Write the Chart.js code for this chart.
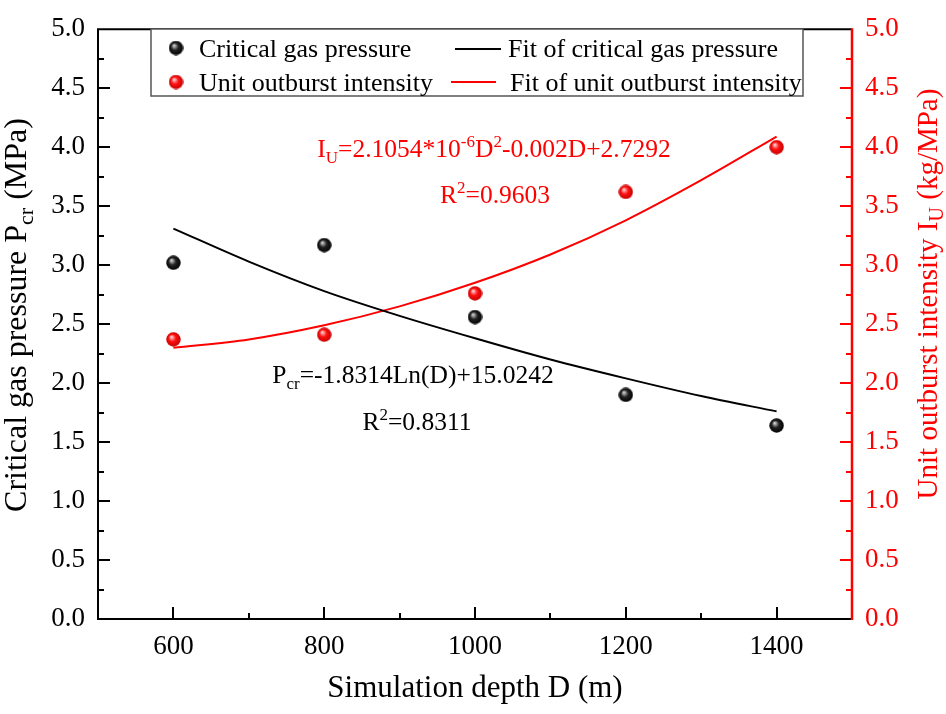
<!DOCTYPE html>
<html>
<head>
<meta charset="utf-8">
<script src="https://cdn.jsdelivr.net/npm/chart.js@4"></script>
<style>
  body { margin: 0; background: #fff; }
  canvas { display: block; }
</style>
</head>
<body>
<canvas id="chart" width="946" height="714"></canvas>
<script>
// data
const depth = [600, 800, 1000, 1200, 1400];
const pressure = [3.02, 3.17, 2.56, 1.90, 1.64];
const intensity = [2.37, 2.41, 2.76, 3.62, 4.00];

// fitted curves, read at every 100 m
const fit_depth = [600, 700, 800, 900, 1000, 1100, 1200, 1300, 1400];
const pressure_fit = [3.31, 3.03, 2.78, 2.57, 2.38, 2.20, 2.04, 1.89, 1.76];
const intensity_fit = [2.30, 2.37, 2.49, 2.65, 2.85, 3.09, 3.38, 3.72, 4.09];

const x_ticks = [600, 800, 1000, 1200, 1400];

const FONT = "'Liberation Serif', 'Times New Roman', serif";
const RED = "#ff0000";

// little shaded balls like the original markers
const make_ball = (light, mid, dark) => {
  const c = document.createElement("canvas");
  c.width = c.height = 15;
  const g = c.getContext("2d");
  const grad = g.createRadialGradient(5.5, 5, 0.5, 7.5, 7.5, 7.5);
  grad.addColorStop(0, light);
  grad.addColorStop(0.45, mid);
  grad.addColorStop(1, dark);
  g.fillStyle = grad;
  g.beginPath();
  g.arc(7.5, 7.5, 7.2, 0, Math.PI * 2);
  g.fill();
  return c;
};
const black_ball = make_ball("#d0d0d0", "#222", "#000");
const red_ball = make_ball("#ffd0d0", "#ff1010", "#c00000");

const pairs = (xs, ys) => xs.map((x, i) => ({ x: x, y: ys[i] }));

// text with sub/superscripts: segs = [[text, "n"|"sub"|"sup"], ...]
const rich_width = (ctx, segs, size) => {
  let w = 0;
  segs.forEach(([t, m]) => {
    ctx.font = (m === "n" ? size : Math.round(size * 0.68)) + "px " + FONT;
    w += ctx.measureText(t).width;
  });
  return w;
};
const draw_rich = (ctx, segs, x, y, size, color, align) => {
  ctx.save();
  ctx.fillStyle = color;
  ctx.textBaseline = "alphabetic";
  ctx.textAlign = "left";
  const w = rich_width(ctx, segs, size);
  let cx = align === "center" ? x - w / 2 : x;
  segs.forEach(([t, m]) => {
    let dy = 0;
    if (m === "sub") dy = size * 0.22;
    if (m === "sup") dy = -size * 0.38;
    ctx.font = (m === "n" ? size : Math.round(size * 0.68)) + "px " + FONT;
    ctx.fillText(t, cx, y + dy);
    cx += ctx.measureText(t).width;
  });
  ctx.restore();
};

const frame_plugin = {
  id: "frame",
  afterDraw(chart) {
    const ctx = chart.ctx;
    const { left, right, top, bottom } = chart.chartArea;
    const xs = chart.scales.x, ys = chart.scales.y;
    ctx.save();
    ctx.lineWidth = 2;
    ctx.lineCap = "butt";

    // inward ticks
    ctx.strokeStyle = "#000";
    for (let v = 600; v <= 1400; v += 100) {
      const px = Math.round(xs.getPixelForValue(v));
      const len = v % 200 === 0 ? 12 : 6;
      ctx.beginPath(); ctx.moveTo(px, bottom); ctx.lineTo(px, bottom - len); ctx.stroke();
    }
    for (let v = 0.25; v < 5; v += 0.25) {
      const py = Math.round(ys.getPixelForValue(v));
      const len = Math.abs(v * 2 - Math.round(v * 2)) < 1e-6 ? 12 : 6;
      ctx.beginPath(); ctx.moveTo(left, py); ctx.lineTo(left + len, py); ctx.stroke();
    }
    ctx.strokeStyle = RED;
    for (let v = 0.25; v < 5; v += 0.25) {
      const py = Math.round(ys.getPixelForValue(v));
      const len = Math.abs(v * 2 - Math.round(v * 2)) < 1e-6 ? 12 : 6;
      ctx.beginPath(); ctx.moveTo(right, py); ctx.lineTo(right - len, py); ctx.stroke();
    }

    // frame
    ctx.strokeStyle = "#000";
    ctx.beginPath();
    ctx.moveTo(right, top); ctx.lineTo(left, top); ctx.lineTo(left, bottom); ctx.lineTo(right, bottom);
    ctx.stroke();
    ctx.strokeStyle = RED;
    ctx.lineWidth = 2.5;
    ctx.beginPath(); ctx.moveTo(right, top - 1); ctx.lineTo(right, bottom + 1); ctx.stroke();
    ctx.restore();

    // axis titles
    draw_rich(ctx, [["Simulation depth D (m)", "n"]], (left + right) / 2, 697, 31, "#000", "center");

    ctx.save();
    ctx.translate(26, 315);
    ctx.rotate(-Math.PI / 2);
    draw_rich(ctx, [["Critical gas pressure P", "n"], ["cr", "sub"], [" (MPa)", "n"]], 0, 0, 32, "#000", "center");
    ctx.restore();

    ctx.save();
    ctx.translate(937, 294);
    ctx.rotate(-Math.PI / 2);
    draw_rich(ctx, [["Unit outburst intensity I", "n"], ["U", "sub"], [" (kg/MPa)", "n"]], 0, 0, 29, RED, "center");
    ctx.restore();

    // fit equations
    draw_rich(ctx, [["I", "n"], ["U", "sub"], ["=2.1054*10", "n"], ["-6", "sup"], ["D", "n"], ["2", "sup"], ["-0.002D+2.7292", "n"]],
      494, 157, 25.5, RED, "center");
    draw_rich(ctx, [["R", "n"], ["2", "sup"], ["=0.9603", "n"]], 495, 203, 25.5, RED, "center");
    draw_rich(ctx, [["P", "n"], ["cr", "sub"], ["=-1.8314Ln(D)+15.0242", "n"]], 413, 383, 25.5, "#000", "center");
    draw_rich(ctx, [["R", "n"], ["2", "sup"], ["=0.8311", "n"]], 417, 430, 25.5, "#000", "center");

    // legend
    ctx.save();
    ctx.fillStyle = "#fff";
    ctx.fillRect(151, 29, 652, 67);
    ctx.strokeStyle = "#555";
    ctx.lineWidth = 1.5;
    ctx.strokeRect(151, 29, 652, 67);
    ctx.drawImage(black_ball, 176 - 7.5, 48 - 7.5);
    ctx.drawImage(red_ball, 176 - 7.5, 82 - 7.5);
    ctx.lineWidth = 2;
    ctx.strokeStyle = "#000";
    ctx.beginPath(); ctx.moveTo(455, 49); ctx.lineTo(501, 49); ctx.stroke();
    ctx.strokeStyle = RED;
    ctx.beginPath(); ctx.moveTo(451, 82); ctx.lineTo(496, 82); ctx.stroke();
    ctx.restore();
    draw_rich(ctx, [["Critical gas pressure", "n"]], 199, 57, 26, "#000", "left");
    draw_rich(ctx, [["Unit outburst intensity", "n"]], 199, 91, 26, "#000", "left");
    draw_rich(ctx, [["Fit of critical gas pressure", "n"]], 508, 57, 26, "#000", "left");
    draw_rich(ctx, [["Fit of unit outburst intensity", "n"]], 510, 91, 26, "#000", "left");
  },
};

const ctx = document.getElementById("chart").getContext("2d");
const chart = new Chart(ctx, {
  type: "scatter",
  data: {
    datasets: [
      {
        label: "Critical gas pressure",
        data: pairs(depth, pressure),
        yAxisID: "y",
        pointStyle: black_ball,
        pointRadius: 7.5,
      },
      {
        label: "Unit outburst intensity",
        data: pairs(depth, intensity),
        yAxisID: "y1",
        pointStyle: red_ball,
        pointRadius: 7.5,
      },
      {
        type: "line",
        label: "Fit of critical gas pressure",
        data: pairs(fit_depth, pressure_fit),
        yAxisID: "y",
        borderColor: "#000",
        borderWidth: 2,
        pointRadius: 0,
        cubicInterpolationMode: "monotone",
        fill: false,
      },
      {
        type: "line",
        label: "Fit of unit outburst intensity",
        data: pairs(fit_depth, intensity_fit),
        yAxisID: "y1",
        borderColor: RED,
        borderWidth: 2,
        pointRadius: 0,
        cubicInterpolationMode: "monotone",
        fill: false,
      },
    ],
  },
  options: {
    responsive: false,
    animation: false,
    layout: { autoPadding: false, padding: { top: 12 } },
    plugins: {
      legend: { display: false },
      tooltip: { enabled: false },
    },
    scales: {
      x: {
        type: "linear",
        min: 500,
        max: 1500,
        grid: { display: false, drawTicks: false },
        border: { display: false },
        ticks: {
          stepSize: 100,
          autoSkip: false,
          maxRotation: 0,
          padding: 12,
          color: "#000",
          font: { family: FONT, size: 27 },
          callback: (v) => (x_ticks.includes(v) ? String(v) : ""),
        },
        afterFit: (s) => { s.height = 95; },
      },
      y: {
        position: "left",
        min: 0,
        max: 5,
        grid: { display: false, drawTicks: false },
        border: { display: false },
        ticks: {
          stepSize: 0.5,
          padding: 13,
          color: "#000",
          font: { family: FONT, size: 27 },
          callback: (v) => v.toFixed(1),
        },
        afterFit: (s) => { s.width = 98; },
      },
      y1: {
        position: "right",
        min: 0,
        max: 5,
        grid: { display: false, drawTicks: false },
        border: { display: false },
        ticks: {
          stepSize: 0.5,
          padding: 13,
          color: RED,
          font: { family: FONT, size: 27 },
          callback: (v) => v.toFixed(1),
        },
        afterFit: (s) => { s.width = 94; },
      },
    },
  },
  plugins: [frame_plugin],
});
</script>
</body>
</html>
